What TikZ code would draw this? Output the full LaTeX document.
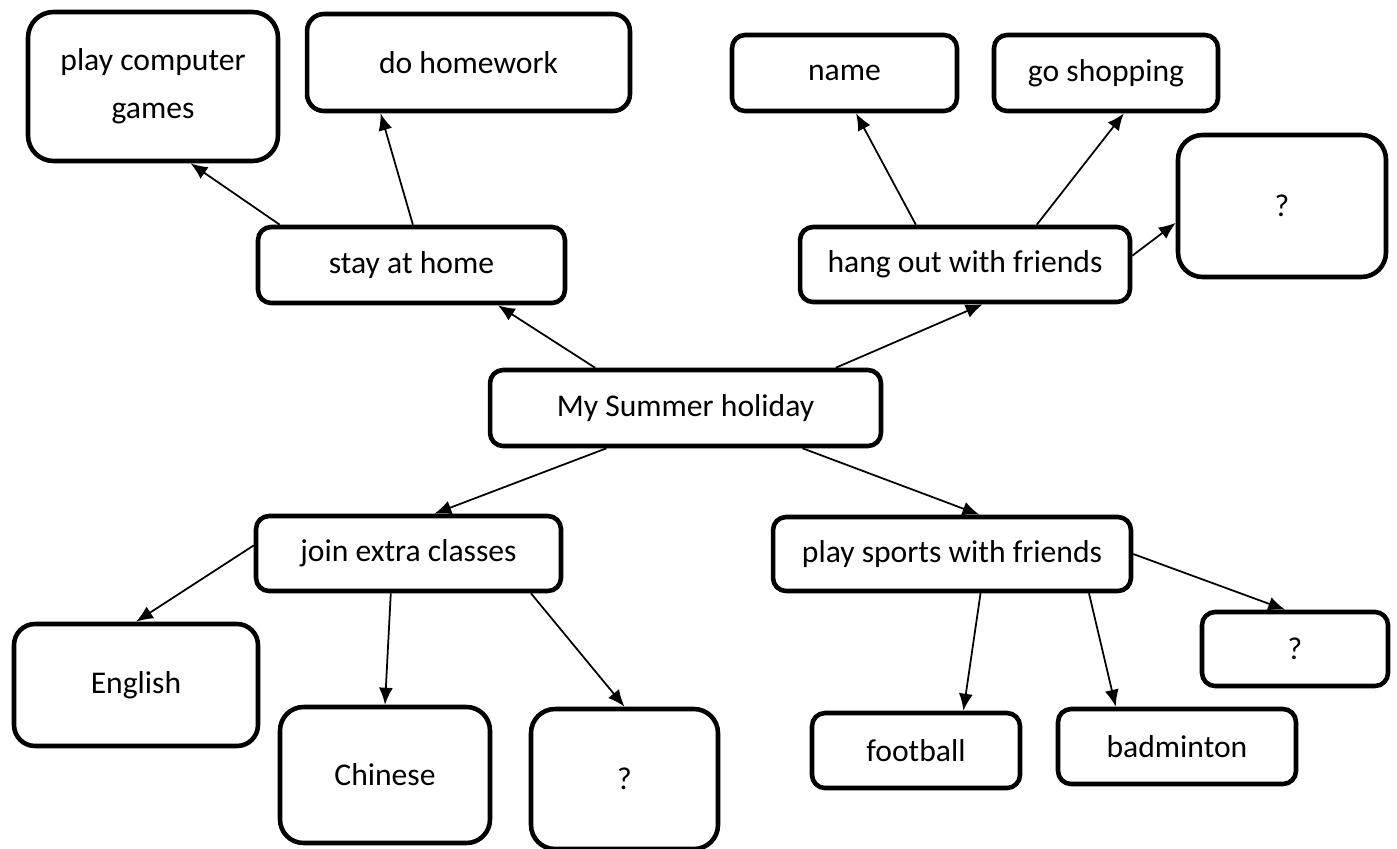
\documentclass[tikz,border=0pt]{standalone}
\usepackage{fontspec}
\setmainfont{Carlito}
\usetikzlibrary{arrows.meta}

\begin{document}
\begin{tikzpicture}[x=0.02cm, y=-0.02cm,
  box/.style={draw, line width=2.6pt, rounded corners=#1, align=center,
    inner sep=0pt, font=\fontsize{18}{27.3}\selectfont},
  box/.default=0.26cm,
  link/.style={-{Latex[length=0.34cm,width=0.28cm]}, line width=1pt}]
\useasboundingbox (0,0) rectangle (1397,849);

\node[box=0.26cm, minimum width=7.82cm, minimum height=1.52cm](my) at (685.5,408) {My Summer holiday};

\node[box, minimum width=6.14cm, minimum height=1.52cm](home) at (411.5,265) {stay at home};
\node[box, minimum width=6.6cm, minimum height=1.5cm](hang) at (965,264.5) {hang out with friends};
\node[box, minimum width=6.1cm, minimum height=1.5cm](join) at (408.5,553.5) {join extra classes};
\node[box, minimum width=7.16cm, minimum height=1.48cm](sports) at (952,554) {play sports with friends};

\node[box=0.51cm, minimum width=5cm, minimum height=2.98cm](games) at (153,86.5) {play computer\\games};
\node[box=0.34cm, minimum width=6.46cm, minimum height=1.94cm](homework) at (468.5,62.5) {do homework};

\node[box, minimum width=4.5cm, minimum height=1.52cm](name) at (844.5,73) {name};
\node[box, minimum width=4.48cm, minimum height=1.52cm](shop) at (1106,73) {go shopping};
\node[box=0.49cm, minimum width=4.16cm, minimum height=2.84cm](hangq) at (1282,206) {?};

\node[box=0.42cm, minimum width=4.88cm, minimum height=2.44cm](english) at (136,685) {English};
\node[box=0.47cm, minimum width=4.2cm, minimum height=2.72cm](chinese) at (385,775) {Chinese};
\node[box=0.48cm, minimum width=3.74cm, minimum height=2.8cm](joinq) at (624.5,779) {?};

\node[box, minimum width=4.16cm, minimum height=1.5cm](football) at (916,750.5) {football};
\node[box, minimum width=4.76cm, minimum height=1.5cm](badminton) at (1177,746.5) {badminton};
\node[box, minimum width=3.72cm, minimum height=1.48cm](sportsq) at (1295,649) {?};

% from the middle
\draw[link] (my.156) -- (home.335);
\draw[link] (my.15.5) -- (hang.294);
\draw[link] (my.207) -- (join.57);
\draw[link] (my.341) -- (sports.55);

% stay at home
\draw[link] (home.163) -- (games.296);
\draw[link] (home.88) -- (homework.210);

% hang out
\draw[link] (hang.141) -- (name.286);
\draw[link] (hang.29.4) -- (shop.294);
\draw[link] (hang.3.3) -- (hangq.189);

% extra classes
\draw[link] (join.177.6) -- (english.north);
\draw[link] (join.246.6) -- (chinese.north);
\draw[link] (join.342.4) -- (joinq.north);

% sports
\draw[link] (sports.306) -- (football.40.7);
\draw[link] (sports.344) -- (badminton.147.3);
\draw[link] (sports.east) -- (sportsq.104);
\end{tikzpicture}
\end{document}
